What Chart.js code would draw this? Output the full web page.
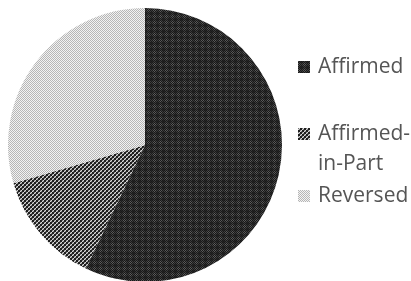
<!DOCTYPE html>
<html>
<head>
<meta charset="utf-8">
<script src="https://cdn.jsdelivr.net/npm/chart.js@4/dist/chart.umd.min.js"></script>
<style>
  html, body { margin: 0; padding: 0; background: #fff; overflow: hidden; }
  #wrap { width: 411px; height: 290px; position: relative; }
</style>
</head>
<body>
<div id="wrap"><canvas id="pie"></canvas></div>
<script>
// data (share of decisions, %)
const categories = ['Affirmed', 'Affirmed-in-Part', 'Reversed'];
const shares = [57.1, 13.4, 29.5];
// how each legend label wraps
const legendLines = [['Affirmed'], ['Affirmed-', 'in-Part'], ['Reversed']];

// small tiled fills that mimic the hatch patterns
function makePattern(size, pick) {
  const c = document.createElement('canvas');
  c.width = size;
  c.height = size;
  const g = c.getContext('2d');
  for (let y = 0; y < size; y += 1) {
    for (let x = 0; x < size; x += 1) {
      g.fillStyle = pick(x, y);
      g.fillRect(x, y, 1, 1);
    }
  }
  return g.createPattern(c, 'repeat');
}

const ctx = document.getElementById('pie').getContext('2d');

const darkPlaid = makePattern(6, (x, y) => {
  if ((x + y) % 2 === 0) return '#181818';
  const bx = x % 6 < 3;
  const by = y % 6 < 3;
  if (bx && by) return '#262626';
  if (bx || by) return '#3e3e3e';
  return '#5a5a5a';
});
const midCheck = makePattern(4, (x, y) => {
  if (((x >> 1) + (y >> 1)) % 2 === 0) return '#1e1e1e';
  return (x + y) % 2 ? '#dadada' : '#767676';
});
const lightCheck = makePattern(2, (x, y) => ((x + y) % 2 ? '#f2f2f2' : '#b6b6b6'));
const fills = [darkPlaid, midCheck, lightCheck];

// legend on the right, drawn from the chart's own labels and fills
const sideLegend = {
  id: 'sideLegend',
  afterDraw(chart, args, opts) {
    const c = chart.ctx;
    const ds = chart.data.datasets[0];
    c.save();
    c.font = opts.font;
    c.textBaseline = 'alphabetic';
    chart.data.labels.forEach((label, i) => {
      const y = opts.rows[i];
      c.fillStyle = ds.backgroundColor[i];
      c.fillRect(opts.boxX, y - opts.box, opts.box, opts.box);
      c.fillStyle = opts.color;
      legendLines[i].forEach((line, j) => {
        c.fillText(line, opts.textX, y + j * opts.lineHeight);
      });
    });
    c.restore();
  },
};

const myChart = new Chart(ctx, {
  type: 'pie',
  data: {
    labels: categories,
    datasets: [{
      data: shares,
      backgroundColor: fills,
      borderWidth: 0,
    }],
  },
  options: {
    animation: false,
    responsive: true,
    maintainAspectRatio: false,
    events: [],
    layout: {
      padding: { left: 8, top: 8, right: 129, bottom: 8 },
    },
    plugins: {
      legend: { display: false },
      tooltip: { enabled: false },
      sideLegend: {
        font: "21px 'Open Sans', sans-serif",
        color: '#555555',
        boxX: 298,
        box: 12,
        textX: 318,
        rows: [73, 140, 202], // baselines of first line
        lineHeight: 30,
      },
    },
  },
  plugins: [sideLegend],
});
</script>
</body>
</html>
